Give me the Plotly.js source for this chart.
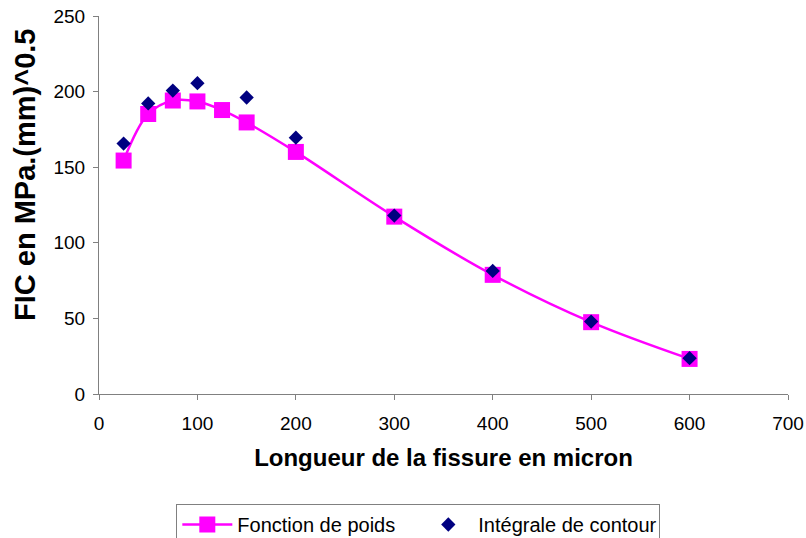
<!DOCTYPE html>
<html>
<head>
<meta charset="utf-8">
<script src="https://cdn.plot.ly/plotly-3.0.1.min.js"></script>
<style>html,body{margin:0;padding:0;background:#fff;}#chart{width:806px;height:538px;}</style>
</head>
<body>
<div id="chart"></div>
<script>
const xPoids = [25, 50, 75, 100, 125, 150, 200, 300, 400, 500, 600];
const yPoids = [154.4, 185.2, 194.1, 193.5, 187.8, 179.6, 160.1, 117.3, 78.8, 47.5, 23.2];
const xContour = [25, 50, 75, 100, 150, 200, 300, 400, 500, 600];
const yContour = [165.6, 192.2, 200.7, 205.6, 196.1, 169.5, 118.0, 81.4, 47.9, 23.7];
const xTicks = [0, 100, 200, 300, 400, 500, 600, 700];
const yTicks = [0, 50, 100, 150, 200, 250];
const nomPoids = "Fonction de poids";
const nomContour = "Intégrale de contour";
const titreX = "Longueur de la fissure en micron";
const titreY = "FIC en MPa.(mm)^0.5";

const font = "Liberation Sans, Arial, sans-serif";
const traces = [
  {x: xPoids, y: yPoids, name: nomPoids, type: "scatter", mode: "lines+markers",
   line: {color: "#FF00FF", width: 2.5, shape: "spline", smoothing: 1},
   marker: {symbol: "square", size: 16, color: "#FF00FF"}},
  {x: xContour, y: yContour, name: nomContour, type: "scatter", mode: "markers",
   marker: {symbol: "diamond", size: 11, color: "#000080"}}
];
const layout = {
  width: 806, height: 538,
  margin: {l: 99, r: 18, t: 16, b: 144},
  paper_bgcolor: "#fff", plot_bgcolor: "#fff",
  font: {family: font, color: "#000", size: 19},
  showlegend: true,
  legend: {orientation: "h", xref: "container", yref: "container", x: 0.519, xanchor: "center",
           y: 1 - 504/538, yanchor: "top", bordercolor: "#808080", borderwidth: 1,
           font: {family: font, size: 20, color: "#000"}, itemwidth: 50,
           entrywidth: 176, entrywidthmode: "pixels", tracegroupgap: 0},
  xaxis: {range: [0, 700], tickvals: xTicks, ticktext: xTicks.map(String), showgrid: false, zeroline: false,
          showline: true, linecolor: "#808080", linewidth: 1, ticks: "outside", ticklen: 5, tickcolor: "#808080",
          ticklabelstandoff: 7,
          tickfont: {size: 19}, title: {text: titreX, font: {size: 24, family: font, weight: "bold"}, standoff: 16}},
  yaxis: {range: [0, 250], tickvals: yTicks, ticktext: yTicks.map(String), showgrid: false, zeroline: false,
          showline: true, linecolor: "#808080", linewidth: 1, ticks: "outside", ticklen: 5, tickcolor: "#808080",
          ticklabelstandoff: 4,
          tickfont: {size: 19}},
  annotations: [{text: titreY, textangle: -90, showarrow: false,
                 xref: "paper", x: (25 - 99) / 689, xanchor: "center",
                 yref: "paper", y: (394 - 175) / 378, yanchor: "middle",
                 font: {size: 29, family: font, weight: "bold", color: "#000"}}]
};
Plotly.newPlot("chart", traces, layout, {displayModeBar: false, staticPlot: true});
</script>
</body>
</html>
